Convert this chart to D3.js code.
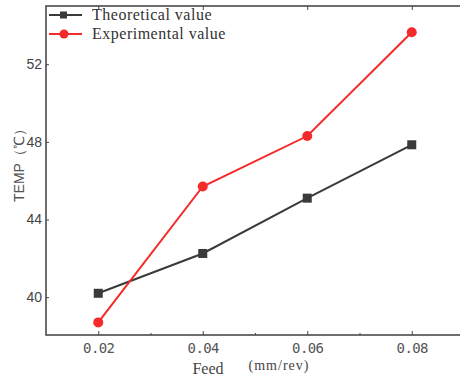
<!DOCTYPE html>
<html>
<head>
<meta charset="utf-8">
<script src="https://cdn.jsdelivr.net/npm/d3@7"></script>
<style>
  body { margin: 0; background: #fff; }
  svg { display: block; }
</style>
</head>
<body>
<svg id="chart" width="460" height="378"></svg>
<script>
const feeds = [0.02, 0.04, 0.06, 0.08];
const theoretical = [40.2, 42.25, 45.1, 47.85];
const experimental = [38.7, 45.7, 48.3, 53.65];
const xTicks = [0.02, 0.04, 0.06, 0.08];
const xMinorTicks = [0.03, 0.05, 0.07];
const yTicks = [40, 44, 48, 52];
const seriesNames = ['Theoretical value', 'Experimental value'];

const svg = d3.select('#chart');
const plotLeft = 46, plotRight = 464, plotTop = 6, plotBottom = 335;

const x = d3.scaleLinear().domain([0.01, 0.09]).range([plotLeft, plotRight]);
const y = d3.scaleLinear().domain([38.05, 55]).range([plotBottom, plotTop]);

// frame
svg.append('rect')
  .attr('x', plotLeft).attr('y', plotTop)
  .attr('width', plotRight - plotLeft).attr('height', plotBottom - plotTop)
  .attr('fill', 'none').attr('stroke', '#4a4a4a').attr('stroke-width', 1.6);

// bottom axis, ticks inward
const xAxis = svg.append('g').attr('transform', `translate(0,${plotBottom})`)
  .call(d3.axisBottom(x).tickValues(xTicks).tickSize(-4).tickPadding(8).tickFormat(d3.format('.2f')));
xAxis.select('.domain').remove();
xAxis.selectAll('line').attr('stroke', '#444');
xAxis.selectAll('text')
  .attr('font-family', 'DejaVu Sans Mono, monospace').attr('font-size', 14).attr('fill', '#555')
  .attr('letter-spacing', -0.6);
svg.append('g').attr('transform', `translate(0,${plotBottom})`)
  .call(d3.axisBottom(x).tickValues(xMinorTicks).tickSize(-2).tickFormat(''))
  .call(g => g.select('.domain').remove())
  .selectAll('line').attr('stroke', '#444');

// top axis ticks
svg.append('g').attr('transform', `translate(0,${plotTop})`)
  .call(d3.axisTop(x).tickValues(xTicks).tickSize(-4).tickFormat(''))
  .call(g => g.select('.domain').remove())
  .selectAll('line').attr('stroke', '#444');

// left axis
const yAxis = svg.append('g').attr('transform', `translate(${plotLeft},0)`)
  .call(d3.axisLeft(y).tickValues(yTicks).tickSize(-3).tickPadding(4));
yAxis.select('.domain').remove();
yAxis.selectAll('line').attr('stroke', '#444');
yAxis.selectAll('text')
  .attr('font-family', 'Liberation Sans, Arial, sans-serif').attr('font-size', 14).attr('fill', '#444');

// right axis ticks
svg.append('g').attr('transform', `translate(${plotRight},0)`)
  .call(d3.axisRight(y).tickValues(yTicks).tickSize(-4).tickFormat(''))
  .call(g => g.select('.domain').remove())
  .selectAll('line').attr('stroke', '#444');

// axis titles
svg.append('text')
  .attr('transform', 'translate(24,162) rotate(-90)')
  .attr('text-anchor', 'middle')
  .attr('font-family', 'Liberation Sans, Arial, sans-serif').attr('font-size', 14).attr('fill', '#555')
  .text('TEMP（℃）');
svg.append('text')
  .attr('x', 208).attr('y', 374).attr('text-anchor', 'middle')
  .attr('font-family', 'Liberation Serif, Times New Roman, serif').attr('font-size', 16).attr('fill', '#444')
  .text('Feed');
svg.append('text')
  .attr('x', 279).attr('y', 370).attr('text-anchor', 'middle')
  .attr('font-family', 'Liberation Serif, Times New Roman, serif').attr('font-size', 14).attr('fill', '#444')
  .attr('letter-spacing', 1)
  .text('(mm/rev)');

const line = d3.line().x(d => x(d[0])).y(d => y(d[1]));
const series = [
  { name: seriesNames[0], values: theoretical, color: '#3a3a3a', shape: 'square' },
  { name: seriesNames[1], values: experimental, color: '#f52a2a', shape: 'circle' }
];

series.forEach(s => {
  const pts = feeds.map((f, i) => [f, s.values[i]]);
  svg.append('path').datum(pts)
    .attr('d', line).attr('fill', 'none').attr('stroke', s.color).attr('stroke-width', 2);
  if (s.shape === 'square') {
    svg.selectAll(null).data(pts).join('rect')
      .attr('x', d => x(d[0]) - 4.5).attr('y', d => y(d[1]) - 4.5)
      .attr('width', 9).attr('height', 9).attr('fill', s.color);
  } else {
    svg.selectAll(null).data(pts).join('circle')
      .attr('cx', d => x(d[0])).attr('cy', d => y(d[1])).attr('r', 5)
      .attr('fill', s.color);
  }
});

// legend
const legend = svg.append('g');
series.forEach((s, i) => {
  const ly = 15 + i * 19;
  legend.append('line')
    .attr('x1', 49).attr('x2', 82).attr('y1', ly).attr('y2', ly)
    .attr('stroke', s.color).attr('stroke-width', 2);
  if (s.shape === 'square') {
    legend.append('rect').attr('x', 60).attr('y', ly - 3.5).attr('width', 7).attr('height', 7).attr('fill', s.color);
  } else {
    legend.append('circle').attr('cx', 64).attr('cy', ly).attr('r', 4.5).attr('fill', s.color);
  }
  legend.append('text')
    .attr('x', 92).attr('y', ly + 5)
    .attr('font-family', 'Liberation Serif, Times New Roman, serif').attr('font-size', 16).attr('fill', '#333')
    .attr('letter-spacing', 0.5)
    .text(s.name);
});
</script>
</body>
</html>
